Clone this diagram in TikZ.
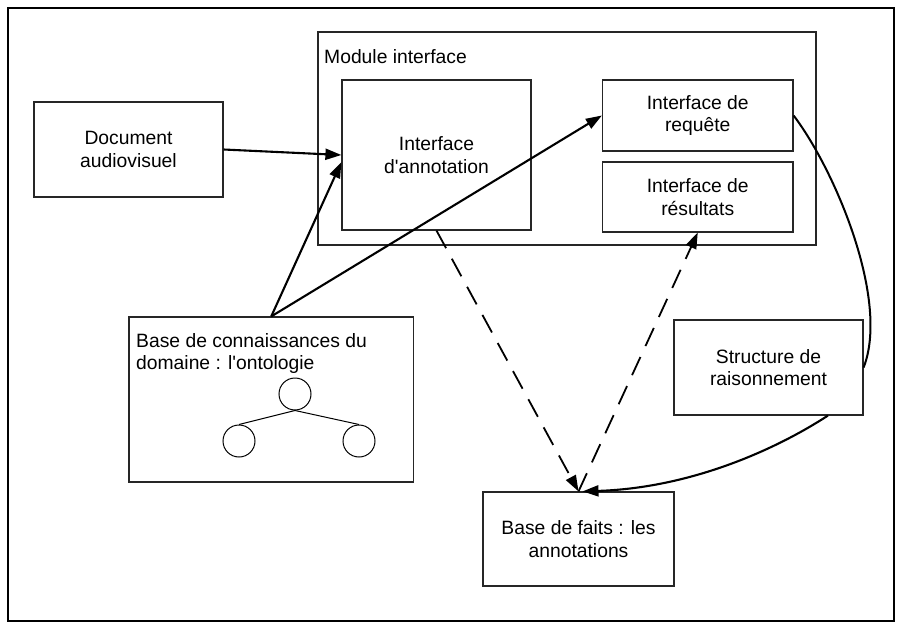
\documentclass[tikz,border=0pt]{standalone}
\usepackage{fontspec}
\setmainfont{Liberation Sans}
\usetikzlibrary{arrows.meta,calc}
\begin{document}
\begin{tikzpicture}[x=1pt,y=-1pt,
  box/.style={draw=black!85,line width=1.2pt,inner sep=0pt,font=\fontsize{19.3}{22.5}\selectfont,align=center},
  txt/.style={font=\fontsize{19.3}{22.5}\selectfont,align=left,inner sep=0pt},
  arr/.style={line width=2.1pt,-{Triangle[length=16pt,width=11pt]}},
  darr/.style={line width=1.8pt,dash pattern=on 20pt off 12pt,-{Triangle[length=16pt,width=11pt]}},
  curv/.style={line width=2pt},
  tnode/.style={circle,draw=black,line width=1pt,minimum size=32pt,inner sep=0pt},
  tedge/.style={line width=1pt}
  ]
\useasboundingbox (0,0) rectangle (898,624);
\draw[line width=1.8pt] (8,8) rectangle (894,621);

% module interface
\node[box,minimum width=498pt,minimum height=213pt] (mod) at (567,138.5) {};
\node[txt,anchor=west] (modlbl) at (324,57) {Module interface};
\node[box,minimum width=189pt,minimum height=150pt] (ann) at (436.5,155) {Interface\\d\textquotesingle annotation};
\node[box,minimum width=190.5pt,minimum height=71pt] (req) at (697.75,115.5) {Interface de\\requête};
\node[box,minimum width=190.5pt,minimum height=70pt] (res) at (697.75,197) {Interface de\\résultats};

% other boxes
\node[box,minimum width=189pt,minimum height=95pt] (doc) at (128.5,149.5) {Document\\audiovisuel};
\node[box,minimum width=284.5pt,minimum height=165pt] (kb) at (271.25,399.5) {};
\node[txt,anchor=north west] (kblbl) at (136,333) {Base de connaissances du\\domaine : l\textquotesingle ontologie};
\node[box,minimum width=189pt,minimum height=95pt] (struct) at (768.5,367.5) {Structure de\\raisonnement};
\node[box,minimum width=191pt,minimum height=94pt] (facts) at (578.5,539) {Base de faits : les\\annotations};

% ontology tree
\node[tnode] (t0) at (295,394) {};
\node[tnode] (t1) at (239,441) {};
\node[tnode] (t2) at (359,441) {};
\draw[tedge] (t0.south) -- (t1.north);
\draw[tedge] (t0.south) -- (t2.north);

% connectors
\draw[arr] (doc.east) -- (ann.west);
\draw[arr] (kb.north) -- ($(ann.west)+(0,7)$);
\draw[arr] (kb.north) -- (req.west);
\draw[darr] (ann.south) -- (facts.north);
\draw[darr] (facts.north) -- (res.south);
\draw[curv] (req.east) .. controls (835,170) and (890,300) .. (struct.east);
\draw[arr] (struct.-39) .. controls (775,450) and (690,488) .. ($(facts.north)+(4,0)$);
\end{tikzpicture}
\end{document}
